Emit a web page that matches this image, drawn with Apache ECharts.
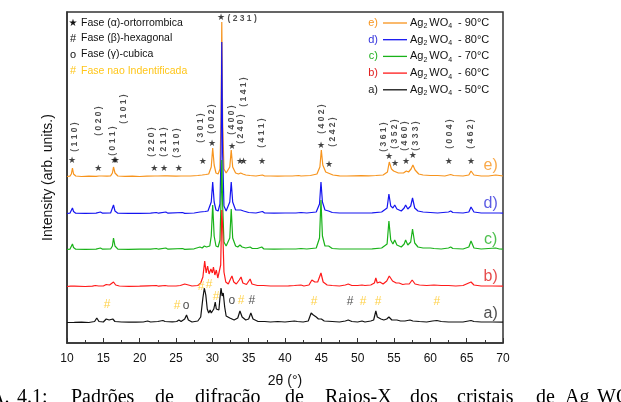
<!DOCTYPE html>
<html><head><meta charset="utf-8">
<script src="https://cdn.jsdelivr.net/npm/echarts/dist/echarts.min.js"></script>
<style>html,body{margin:0;padding:0;background:#fff}#c{width:621px;height:402px}</style>
</head><body><div id="c"></div>
<script>
// ---- data: 2θ (°) vs intensity above each pattern's own baseline (arb. units) ----
const curveA_50C = [[10,0.5],[11,0.6],[12,0.8],[13,0.5],[13.8,1.5],[14.1,5],[14.4,1.5],[15,1],[15.4,4],[15.6,6],[15.8,3],[16.05,5],[16.3,4],[16.6,1.5],[17.5,1],[18.5,0.8],[19.5,0.8],[20.5,1],[21.1,2],[21.5,1],[22.5,1.5],[23.2,2.5],[23.5,1.5],[24.5,1.2],[25.1,1.5],[25.4,3],[25.7,1.5],[26.2,4],[26.45,8],[26.7,3],[27.2,1],[28,2],[28.4,6],[28.7,25],[28.9,35],[29.1,28],[29.3,14],[29.5,10],[29.7,13],[29.85,10],[30.0,11],[30.2,14],[30.4,21],[30.55,14],[30.7,16],[30.9,13],[31.05,25],[31.2,35],[31.35,27],[31.5,30],[31.7,16],[31.9,7],[32.1,5],[32.4,5],[32.7,4],[33.0,3],[33.5,5],[33.8,12],[34.1,6],[34.6,3],[35.0,4],[35.3,10],[35.6,4],[36.3,1.5],[37.2,1.5],[38,1],[39,1.5],[40,1],[41.3,2],[41.7,1.5],[42.5,1],[43.2,2],[43.6,10],[43.9,8],[44.3,6],[44.6,4],[45.0,4],[45.4,2],[46.5,1.5],[47.5,1],[48.3,2],[48.7,3],[49.2,1.5],[50,1],[50.6,2],[51,1],[51.8,2],[52.2,3],[52.5,12],[52.7,6],[52.95,6],[53.2,4],[53.6,3],[54.0,4],[54.3,6],[54.7,3],[55.4,3],[55.9,2],[56.5,2],[57.2,3],[57.6,2],[58.5,1.5],[59.5,1],[60.3,2],[60.9,2.5],[61.5,1.5],[62.5,1],[63.5,1],[64.5,1],[65.6,2.5],[66,1.5],[67,1],[68.5,1],[70,0.8]];
const curveB_60C = [[10,0.5],[10.5,0.8],[10.75,2],[11,0.8],[12.5,0.5],[13.5,0.8],[13.9,1.5],[14.1,3],[14.35,1],[15,1],[15.4,2.5],[15.6,4],[15.85,2],[16.1,2.5],[16.4,5],[16.7,2],[17.2,1],[18.5,0.6],[20,0.8],[21.1,1.2],[22.3,1.5],[22.6,0.8],[23.5,1.5],[23.9,1],[25,1],[25.6,1.5],[26.2,3],[26.45,5],[26.7,2],[27.2,1],[28,1.5],[28.4,4],[28.7,10],[28.95,26],[29.15,14],[29.35,21],[29.55,13],[29.8,18],[30.0,14],[30.15,20],[30.35,12],[30.55,17],[30.75,9],[30.95,8],[31.15,22],[31.3,77],[31.42,60],[31.6,15],[31.85,5],[32.2,3],[32.5,8],[32.7,11],[32.95,5],[33.3,3],[33.7,7],[33.95,10],[34.2,4],[34.7,2.5],[35.2,8],[35.45,3],[36.2,1.5],[37,1.5],[38,1],[39.5,1],[40.5,1.2],[41.3,1.5],[42.2,2],[42.6,1],[43.3,2],[43.7,7],[44.1,5],[44.5,5],[44.95,14],[45.25,5],[45.8,2],[46.5,1.5],[47.5,1],[48.3,2],[48.7,3],[49.2,1.5],[50,1.5],[50.6,2],[51,1.5],[51.8,2],[52.3,4],[52.5,9],[52.7,4],[53.05,5],[53.5,3],[54.0,6],[54.35,11],[54.8,6],[55.3,4],[55.7,4],[56.2,2.5],[56.6,3],[57.1,3],[57.5,7],[57.9,3],[58.5,2],[59.5,1.5],[60.5,2],[61.5,1.5],[62.5,1.5],[63.5,1],[64.5,1.5],[65.6,5],[66,2],[67,1],[68.5,1],[70,0.8]];
const curveC_70C = [[10,0.5],[10.4,0.8],[10.6,2.5],[10.75,6],[10.9,2.5],[11.2,0.8],[12.5,0.6],[14,0.8],[14.6,2],[14.9,0.8],[16,1],[16.25,4],[16.4,12],[16.6,4],[17,0.8],[18.5,0.6],[20,0.8],[21.5,0.8],[22.3,1.5],[22.6,0.8],[23.6,2],[23.9,0.8],[25.9,1.5],[26.2,0.6],[27.5,1.2],[28.3,3],[28.6,2],[28.9,4],[29.2,3],[29.45,5],[29.65,4],[29.85,14],[30.05,45],[30.25,14],[30.5,4],[30.8,3],[31.05,10],[31.2,50],[31.3,90],[31.42,45],[31.6,8],[31.9,4],[32.4,12],[32.6,41],[32.8,12],[33.2,4],[33.5,3],[33.8,5],[34.1,3],[34.6,2],[35.2,3],[35.5,1.5],[36.2,1.5],[36.8,3],[37.1,1],[38.5,0.8],[40,1],[41.5,1],[42.2,1.5],[43,1],[44.3,2],[44.75,12],[44.95,50],[45.15,14],[45.5,4],[46.0,4],[46.5,1.5],[47.5,1],[49,1],[50.5,1],[52,1.2],[53.3,2],[54.05,6],[54.3,29],[54.55,10],[54.85,6],[55.1,10],[55.4,5],[56,3],[56.4,6],[56.6,10],[56.9,5],[57.3,8],[57.55,21],[57.85,7],[58.3,3],[59,2],[60,2],[60.5,1.5],[61.5,1],[62.5,2],[62.8,3],[63.1,1.5],[64.5,1],[65.3,3],[65.6,9],[66,2],[67,1],[68,1.5],[69,2],[69.5,1],[70,0.8]];
const curveD_80C = [[10,0.5],[10.4,0.8],[10.6,2.5],[10.75,6],[10.9,2.5],[11.2,0.8],[12.5,0.6],[14,0.8],[14.6,2],[14.9,0.8],[16,1],[16.25,3],[16.4,9],[16.6,3],[17,0.8],[18.5,0.6],[20,0.6],[21.5,0.8],[22.3,1.5],[22.6,0.8],[23.6,2],[23.9,0.8],[25.9,1.5],[26.2,0.6],[27.5,1],[28.3,2],[29,2.5],[29.4,3],[29.85,12],[30.05,32],[30.25,12],[30.5,4],[30.8,3],[31.05,10],[31.2,60],[31.3,172],[31.42,60],[31.6,8],[31.9,3],[32.4,12],[32.6,32],[32.8,12],[33.2,4],[33.6,4],[33.9,4],[34.3,3],[35,1.5],[36,1],[36.9,2.5],[37.2,1],[38.5,0.8],[40,1],[41.5,1],[42.2,1.5],[43,1],[44.3,2],[44.75,10],[44.95,32],[45.15,12],[45.5,4],[46,3],[46.5,1.5],[47.5,1],[49,1],[50.5,1],[52,1.2],[53.3,2],[54.05,6],[54.3,20],[54.55,8],[54.85,6],[55.1,9],[55.4,5],[56,3],[56.4,6],[56.6,9],[56.9,5],[57.3,8],[57.55,16],[57.85,6],[58.3,3],[59,2],[60,1.5],[61,1],[62.5,2],[62.8,3],[63.1,1.5],[64.5,1],[65.3,2],[65.6,7],[66,2],[67,1],[68,1],[69.5,1],[70,0.8]];
const curveE_90C = [[10,0.5],[10.4,0.8],[10.6,3],[10.75,9],[10.9,3],[11.2,1],[12,0.5],[13,0.8],[14,0.6],[14.4,1],[14.6,2.5],[14.8,1],[15.5,0.8],[16,1.2],[16.25,4],[16.4,10],[16.6,4],[17,1],[18,0.6],[19,0.8],[20,0.5],[21,0.8],[22.1,1],[22.3,1.8],[22.5,1],[23.4,1.2],[23.6,2.5],[23.8,1.2],[25,0.8],[25.7,1],[25.9,2],[26.1,1],[27,1],[28,1.5],[28.6,2],[29.1,2.5],[29.3,3.5],[29.5,3],[29.85,10],[30.05,29],[30.25,12],[30.5,4],[30.8,3],[31.05,8],[31.2,60],[31.3,155],[31.42,55],[31.6,8],[31.9,4],[32.4,10],[32.6,27],[32.8,10],[33.2,4],[33.6,3],[33.9,4],[34.2,3],[34.6,2],[35.2,1.5],[36,1],[36.9,2],[37.2,1],[38,1],[39,0.8],[40,1],[41,1],[41.9,1.5],[42.2,1],[43.5,1.5],[44.4,3],[44.8,10],[45.0,27],[45.2,12],[45.6,5],[46.1,3.5],[46.6,2],[47.5,1.2],[48.5,1],[49.5,1.2],[50.5,1.3],[51.5,1.2],[52.5,1.5],[53.5,2],[54.1,5],[54.35,15],[54.65,8],[54.95,6],[55.2,7],[55.6,4],[56.3,4],[56.7,6],[57.0,5],[57.35,8],[57.6,12],[57.9,7],[58.4,3],[59,2],[60,1.5],[61,1.5],[62,1],[62.8,2.5],[63.2,1.5],[64.5,1],[65.3,2],[65.6,6],[66,2],[67,1],[68,1],[69,2],[70,1]];

const seriesNames = ['a)', 'b)', 'c)', 'd)', 'e)'];
const seriesTemps = ['- 50°C', '- 60°C', '- 70°C', '- 80°C', '- 90°C'];
const xTicks = [10, 15, 20, 25, 30, 35, 40, 45, 50, 55, 60, 65, 70];

// peak annotations: [hkl, 2θ, level]
const hklLabels = [
  ['( 1 1 0 )', 11.1, 206], ['( 0 2 0 )', 14.4, 222], ['( 0 1 1 )', 16.3, 202], ['( 1 0 1 )', 17.8, 234],
  ['( 2 2 0 )', 21.7, 201], ['( 2 1 1 )', 23.35, 201], ['( 3 1 0 )', 25.1, 200], ['( 3 0 1 )', 28.4, 215],
  ['( 0 0 2 )', 29.95, 224], ['( 4 0 0 )', 32.6, 223], ['( 2 4 0 )', 33.95, 214], ['( 1 4 1 )', 34.35, 251],
  ['( 4 1 1 )', 36.8, 210], ['( 4 0 2 )', 45.1, 224], ['( 2 4 2 )', 46.5, 211], ['( 3 6 1 )', 53.6, 206],
  ['( 3 5 2 )', 55.1, 209], ['( 4 6 0 )', 56.5, 207], ['( 3 3 3 )', 58.0, 207], ['( 0 0 4 )', 62.7, 209],
  ['( 4 6 2 )', 65.6, 209]
];
const topLabel = [['( 2 3 1 )', 34.1, 324]];
const alphaStars = [[10.7,182],[14.3,174],[16.5,182],[16.7,182],[22.0,174],[23.35,174],[25.4,174],[28.7,181],[29.95,199],[31.2,325],[32.7,196],[33.8,181],[34.3,181],[36.85,181],[44.95,197],[46.05,178],[54.3,186],[55.15,179],[56.65,181],[57.6,187],[62.55,181],[65.6,181]];
const betaMarks = [[35.45,42],[48.95,41]];
const gammaMarks = [[26.4,37],[32.7,42]];
const unknownMarks = [[15.5,38],[25.15,37],[28.45,56],[29.55,58],[30.5,46],[33.95,42],[44.0,41],[50.75,41],[52.8,41],[60.9,41]];
const tagPositions = [[68.3,29],[68.3,66],[68.3,103],[68.3,139],[68.3,177]];

// ---- layout / style ----
const baselines = [20, 56, 93, 129, 166];
const colors = ['#111111', '#FF1A1A', '#19B219', '#1414F0', '#F7941D'];
const tagColors = ['#222222', '#E02020', '#20B020', '#3333DD', '#F7941D'];
const curves = [curveA_50C, curveB_60C, curveC_70C, curveD_80C, curveE_90C];
const SANS = 'Liberation Sans, Arial, sans-serif';
const SERIF = 'Liberation Serif, Times New Roman, serif';
const YELLOW = '#FFC61A';

function textSeries(data, text, opt) {
  return {
    type: 'scatter', symbolSize: 1, silent: true, z: 10, animation: false,
    itemStyle: { color: 'rgba(0,0,0,0)' },
    data: data,
    label: Object.assign({ show: true, position: 'inside', formatter: text, fontFamily: SANS, color: '#111' }, opt)
  };
}

const lineSeries = [4, 3, 2, 1, 0].map(i => ({
  type: 'line', name: seriesNames[i], symbol: 'none', showSymbol: false, animation: false, silent: true,
  lineStyle: { color: colors[i], width: 1.2 },
  data: curves[i].map(p => [p[0], p[1] + baselines[i]])
}));

const tagData = tagPositions.map((p, i) => ({ value: [p[0], p[1], i], label: { color: tagColors[i] } }));

const series = lineSeries.concat([
  textSeries(hklLabels.map(r => [r[1], r[2], r[0]]), p => p.value[2], { rotate: 90, fontSize: 8.5, fontWeight: 'bold', color: '#222' }),
  textSeries(topLabel.map(r => [r[1], r[2], r[0]]), p => p.value[2], { fontSize: 8.5, fontWeight: 'bold', color: '#222' }),
  textSeries(alphaStars, '★', { fontSize: 9, color: '#111', fontFamily: 'DejaVu Sans' }),
  textSeries(betaMarks, '#', { fontSize: 12, color: '#222' }),
  textSeries(gammaMarks, 'o', { fontSize: 12, color: '#222' }),
  textSeries(unknownMarks, '#', { fontSize: 12, color: YELLOW }),
  textSeries(tagData, p => seriesNames[p.value[2]], { fontSize: 16, color: '#000' })
]);

// legends (graphic text)
const graphic = [];
const leftLegend = [
  ['★', 'Fase (α)-ortorrombica', '#111', 23],
  ['#', 'Fase (β)-hexagonal', '#111', 38.5],
  ['o', 'Fase (γ)-cubica', '#111', 54.5],
  ['#', 'Fase nao Indentificada', YELLOW, 71]
];
leftLegend.forEach(r => {
  graphic.push({ type: 'text', x: 73, y: r[3], style: { text: r[0], fill: r[2], font: (r[0] === '★' ? '10px DejaVu Sans' : '11px ' + SANS), textAlign: 'center', textVerticalAlign: 'middle' } });
  graphic.push({ type: 'text', x: 81, y: r[3], style: { text: r[1], fill: r[2], font: '10.5px ' + SANS, textVerticalAlign: 'middle' } });
});
const legendRows = [4, 3, 2, 1, 0];
legendRows.forEach((i, k) => {
  const y = 23 + k * 16.7;
  graphic.push({ type: 'text', x: 378, y: y, style: { text: seriesNames[i], fill: tagColors[i], font: '11px ' + SANS, textAlign: 'right', textVerticalAlign: 'middle' } });
  graphic.push({ type: 'line', shape: { x1: 383, y1: y, x2: 407, y2: y }, style: { stroke: colors[i], lineWidth: 1.3 } });
  graphic.push({ type: 'text', x: 410, y: y - 7, style: {
    text: '{n|Ag}{s|2}{n|WO}{s|4}', fill: '#111',
    rich: { n: { fontSize: 11, fontFamily: SANS, lineHeight: 14, fill: '#111' }, s: { fontSize: 7, fontFamily: SANS, lineHeight: 8, verticalAlign: 'bottom', fill: '#111', padding: [0, 2, 0, 0] } }
  } });
  graphic.push({ type: 'text', x: 458, y: y, style: { text: seriesTemps[i], fill: '#111', font: '11px ' + SANS, textVerticalAlign: 'middle' } });
});
// caption (cut at the bottom of the picture)
const captionWords = [['A.', -10], ['4.1:', 17], ['Padrões', 71], ['de', 155], ['difração', 195], ['de', 285], ['Raios-X', 325], ['dos', 410], ['cristais', 457], ['de', 536], ['Ag', 565], ['WO', 597]];
captionWords.forEach(w => graphic.push({ type: 'text', x: w[1], y: 398, style: { text: w[0], fill: '#000', font: '20px ' + SERIF, textVerticalAlign: 'middle' } }));

const chart = echarts.init(document.getElementById('c'), null, { renderer: 'canvas' });
chart.setOption({
  animation: false,
  backgroundColor: '#fff',
  grid: { left: 67, right: 118, top: 12, bottom: 59, show: true, borderColor: '#333', borderWidth: 1.5, backgroundColor: 'transparent' },
  xAxis: {
    type: 'value', min: 10, max: 70, interval: 5,
    name: '2θ (°)', nameLocation: 'middle', nameGap: 31,
    nameTextStyle: { fontSize: 14, fontFamily: SANS, color: '#111' },
    axisLine: { show: true, lineStyle: { color: '#333', width: 1.5 } },
    axisTick: { show: true, inside: true, length: 5, lineStyle: { color: '#333' } },
    minorTick: { show: true, splitNumber: 2, length: 3, lineStyle: { color: '#333' } },
    axisLabel: { fontSize: 12, fontFamily: SANS, color: '#111', margin: 10, formatter: v => xTicks.includes(v) ? String(v) : '' },
    splitLine: { show: false }
  },
  yAxis: {
    type: 'value', min: 0, max: 331,
    name: 'Intensity (arb. units.)', nameLocation: 'middle', nameGap: 12,
    nameTextStyle: { fontSize: 14, fontFamily: SANS, color: '#111' },
    axisLine: { show: true, lineStyle: { color: '#333', width: 1.5 } },
    axisTick: { show: false }, axisLabel: { show: false }, splitLine: { show: false }
  },
  series: series,
  graphic: graphic
});
</script></body></html>
